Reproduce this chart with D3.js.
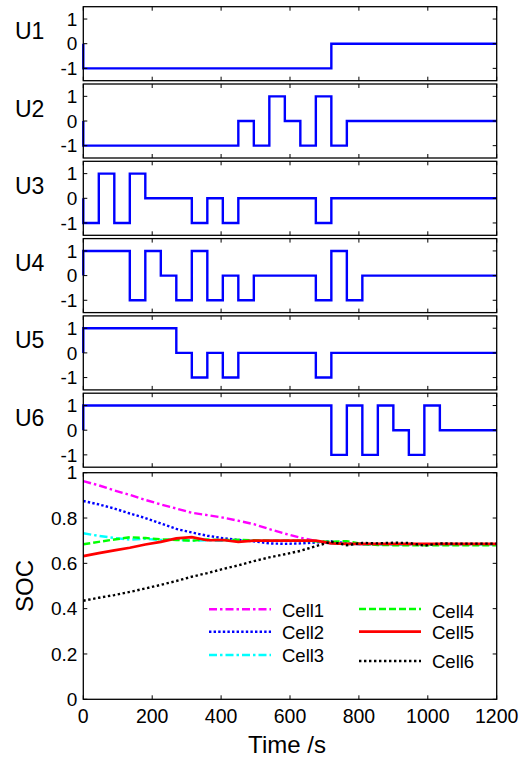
<!DOCTYPE html>
<html>
<head>
<meta charset="utf-8">
<script src="https://cdn.jsdelivr.net/npm/d3@7"></script>
<style>
    body { margin: 0; background: #fff; }
    svg { display: block; font-family: "Liberation Sans", Arial, sans-serif; }
</style>
</head>
<body>
<div id="chart"></div>
<script>
// Switch signals: start at 0, then step to each level at the given time
var uNames = ["U1", "U2", "U3", "U4", "U5", "U6"];
var uSwitchTimes = [
    [0, 720],
    [0, 450, 495, 540, 585, 630, 675, 720, 765],
    [0, 45, 90, 135, 180, 315, 360, 405, 450, 675, 720],
    [0, 135, 180, 225, 270, 315, 360, 405, 450, 495, 675, 720, 765, 810],
    [0, 270, 315, 360, 405, 450, 675, 720],
    [0, 720, 765, 810, 855, 900, 945, 990, 1035]
];
var uLevels = [
    [-1, 0],
    [-1, 0, -1, 1, 0, -1, 1, -1, 0],
    [-1, 1, -1, 1, 0, -1, 0, -1, 0, -1, 0],
    [1, -1, 1, 0, -1, 1, -1, 0, -1, 0, -1, 1, -1, 0],
    [1, 0, -1, 0, -1, 0, -1, 0],
    [1, -1, 1, -1, 1, 0, -1, 1, 0]
];
var uTicks = [-1, 0, 1];

// SOC of the six cells
var cellNames = ["Cell1", "Cell2", "Cell3", "Cell4", "Cell5", "Cell6"];
var socTimes = [0, 45, 90, 135, 180, 225, 270, 315, 360, 405, 450, 495, 540, 585, 630, 675, 720, 765, 810, 855, 900, 945, 990, 1035, 1080, 1125, 1170, 1200];
var soc1 = [0.963, 0.944, 0.922, 0.902, 0.880, 0.860, 0.842, 0.823, 0.813, 0.802, 0.788, 0.773, 0.751, 0.731, 0.713, 0.699, 0.688, 0.686, 0.685, 0.685, 0.685, 0.685, 0.685, 0.685, 0.685, 0.685, 0.685, 0.685];
var soc2 = [0.875, 0.860, 0.842, 0.820, 0.800, 0.776, 0.752, 0.736, 0.722, 0.711, 0.703, 0.697, 0.688, 0.686, 0.688, 0.692, 0.697, 0.688, 0.685, 0.685, 0.685, 0.685, 0.685, 0.685, 0.685, 0.685, 0.685, 0.685];
var soc3 = [0.733, 0.721, 0.712, 0.705, 0.708, 0.703, 0.705, 0.700, 0.702, 0.700, 0.701, 0.700, 0.700, 0.700, 0.700, 0.699, 0.688, 0.685, 0.684, 0.683, 0.683, 0.683, 0.683, 0.683, 0.683, 0.683, 0.683, 0.683];
var soc4 = [0.684, 0.695, 0.705, 0.715, 0.712, 0.706, 0.703, 0.700, 0.705, 0.703, 0.704, 0.702, 0.700, 0.700, 0.700, 0.697, 0.695, 0.698, 0.685, 0.681, 0.680, 0.680, 0.680, 0.680, 0.680, 0.680, 0.680, 0.680];
var soc5 = [0.632, 0.645, 0.657, 0.669, 0.683, 0.695, 0.710, 0.716, 0.702, 0.703, 0.695, 0.700, 0.700, 0.700, 0.700, 0.700, 0.688, 0.686, 0.686, 0.686, 0.686, 0.686, 0.686, 0.686, 0.686, 0.686, 0.686, 0.686];
var soc6 = [0.435, 0.448, 0.460, 0.474, 0.489, 0.505, 0.522, 0.541, 0.557, 0.575, 0.591, 0.610, 0.626, 0.640, 0.655, 0.676, 0.695, 0.680, 0.690, 0.688, 0.691, 0.690, 0.678, 0.688, 0.687, 0.687, 0.687, 0.687];
var socTicks = [0, 0.2, 0.4, 0.6, 0.8, 1];
var timeTicks = [0, 200, 400, 600, 800, 1000, 1200];

// Line styles for the cells
var cellStyles = [
    { color: "#ff00ff", dash: "8,3,2.5,3", width: 2.4 },
    { color: "#0000ff", dash: "2.4,2.2", width: 2.4 },
    { color: "#00ffff", dash: "8,3,2.5,3", width: 2.4 },
    { color: "#00ff00", dash: "7,3", width: 2.4 },
    { color: "#ff0000", dash: null, width: 2.7 },
    { color: "#000000", dash: "2.4,2.6", width: 2.4 }
];

var W = 519, H = 762;
var left = 83.3, right = 496.7;
var panelTop = 6.7, panelH = 74, panelStep = 77.3;
var socTop = 472.7, socH = 226.6;
var tickLen = 4;

var svg = d3.select("#chart").append("svg")
    .attr("width", W)
    .attr("height", H);

var x = d3.scaleLinear().domain([0, 1200]).range([left, right]);

// Draws the box with inner ticks on all four sides
var drawFrame = function(g, y, top, bottom, yTicks) {
    g.append("rect")
        .attr("x", left)
        .attr("y", top)
        .attr("width", right - left)
        .attr("height", bottom - top)
        .attr("fill", "none")
        .attr("stroke", "#000")
        .attr("stroke-width", 1.3);
    timeTicks.forEach(function(t) {
        g.append("line").attr("x1", x(t)).attr("x2", x(t))
            .attr("y1", bottom).attr("y2", bottom - tickLen)
            .attr("stroke", "#000");
        g.append("line").attr("x1", x(t)).attr("x2", x(t))
            .attr("y1", top).attr("y2", top + tickLen)
            .attr("stroke", "#000");
    });
    yTicks.forEach(function(v) {
        g.append("line").attr("x1", left).attr("x2", left + tickLen)
            .attr("y1", y(v)).attr("y2", y(v))
            .attr("stroke", "#000");
        g.append("line").attr("x1", right).attr("x2", right - tickLen)
            .attr("y1", y(v)).attr("y2", y(v))
            .attr("stroke", "#000");
        g.append("text")
            .attr("x", left - 6)
            .attr("y", y(v))
            .attr("dy", "0.35em")
            .attr("text-anchor", "end")
            .style("font-size", "19px")
            .text(v);
    });
};

// Switch signal panels
var stepLine = d3.line()
    .x(function(d) { return x(d.t); })
    .curve(d3.curveStepAfter);

uNames.forEach(function(name, i) {
    var top = panelTop + i * panelStep;
    var bottom = top + panelH;
    var y = d3.scaleLinear().domain([-1.5, 1.5]).range([bottom, top]);
    var g = svg.append("g");

    var points = [{ t: 0, v: 0 }];
    uSwitchTimes[i].forEach(function(t, k) {
        points.push({ t: t, v: uLevels[i][k] });
    });
    points.push({ t: 1200, v: uLevels[i][uLevels[i].length - 1] });

    g.append("path")
        .attr("d", stepLine.y(function(d) { return y(d.v); })(points))
        .attr("fill", "none")
        .attr("stroke", "#0000ff")
        .attr("stroke-width", 2.4);

    drawFrame(g, y, top, bottom, uTicks);

    g.append("text")
        .attr("x", 15)
        .attr("y", (top + bottom) / 2 - 4.5)
        .style("font-size", "23px")
        .text(name);
});

// SOC panel
var ySoc = d3.scaleLinear().domain([0, 1]).range([socTop + socH, socTop]);
var gSoc = svg.append("g");
var socLine = d3.line()
    .x(function(d) { return x(d.t); })
    .y(function(d) { return ySoc(d.v); });
var socSeries = [soc1, soc2, soc3, soc4, soc5, soc6];

// Draw in order so the red and black lines end on top like the reference
socSeries.forEach(function(vals, i) {
    var pts = socTimes.map(function(t, k) { return { t: t, v: vals[k] }; });
    gSoc.append("path")
        .attr("d", socLine(pts))
        .attr("fill", "none")
        .attr("stroke", cellStyles[i].color)
        .attr("stroke-width", cellStyles[i].width)
        .attr("stroke-dasharray", cellStyles[i].dash);
});

drawFrame(gSoc, ySoc, socTop, socTop + socH, socTicks);

// X tick labels
timeTicks.forEach(function(t) {
    gSoc.append("text")
        .attr("x", x(t))
        .attr("y", socTop + socH + 24)
        .attr("text-anchor", "middle")
        .style("font-size", "19.5px")
        .text(t);
});

// Axis titles
svg.append("text")
    .attr("x", 287)
    .attr("y", 753)
    .attr("text-anchor", "middle")
    .style("font-size", "24px")
    .text("Time /s");
svg.append("text")
    .attr("transform", "translate(33," + (socTop + socH / 2) + ") rotate(-90)")
    .attr("text-anchor", "middle")
    .style("font-size", "24px")
    .text("SOC");

// Legend, two columns of three
var legendX = [209, 359];
var legendLineY = [[609.3, 631.7, 655], [609, 631.7, 661]];
var legendTextY = [[616.7, 639, 662.3], [618.3, 639, 668.3]];
cellNames.forEach(function(name, i) {
    var col = Math.floor(i / 3), row = i % 3;
    gSoc.append("line")
        .attr("x1", legendX[col])
        .attr("x2", legendX[col] + 62)
        .attr("y1", legendLineY[col][row])
        .attr("y2", legendLineY[col][row])
        .attr("stroke", cellStyles[i].color)
        .attr("stroke-width", cellStyles[i].width)
        .attr("stroke-dasharray", cellStyles[i].dash);
    gSoc.append("text")
        .attr("x", legendX[col] + 73)
        .attr("y", legendTextY[col][row])
        .style("font-size", "18.5px")
        .text(name);
});
</script>
</body>
</html>
